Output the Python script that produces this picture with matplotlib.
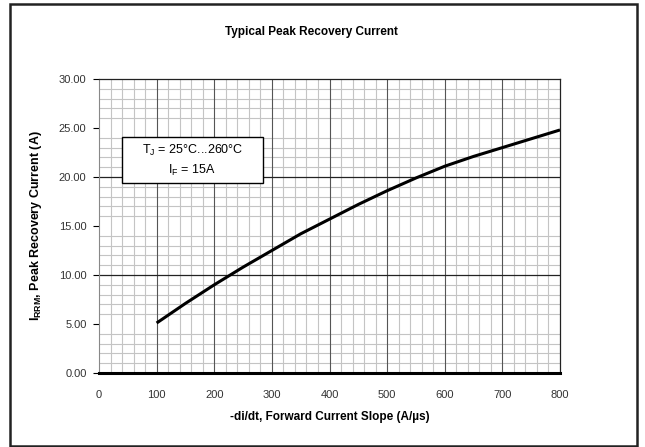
import numpy as np
import matplotlib
matplotlib.use('Agg')
import matplotlib.pyplot as plt
from matplotlib.patches import Rectangle
from matplotlib.ticker import MultipleLocator

# data
slope = [100, 150, 200, 250, 300, 350, 400, 450, 500, 550, 600, 650, 700, 750, 800]
irrm = [5.1, 7.1, 9.0, 10.8, 12.5, 14.2, 15.7, 17.2, 18.6, 19.9, 21.1, 22.1, 23.0, 23.9, 24.8]

x_ticks = [0, 100, 200, 300, 400, 500, 600, 700, 800]
y_ticks = [0, 5, 10, 15, 20, 25, 30]

plt.rcParams['font.family'] = ['Liberation Sans', 'DejaVu Sans']
plt.rcParams['mathtext.fontset'] = 'custom'
plt.rcParams['mathtext.rm'] = 'Liberation Sans'
plt.rcParams['mathtext.bf'] = 'Liberation Sans:bold'

fig = plt.figure(figsize=(6.45, 4.47), dpi=100)
ax = fig.add_axes([99 / 645, 1 - 373 / 447, 461 / 645, 294 / 447])

# grid
ax.set_xlim(0, 800)
ax.set_ylim(0, 30)
ax.xaxis.set_minor_locator(MultipleLocator(20))
ax.yaxis.set_minor_locator(MultipleLocator(1))
ax.set_xticks(x_ticks)
ax.set_yticks(y_ticks)
ax.set_xticklabels([str(v) for v in x_ticks])
ax.set_yticklabels(['%.2f' % v for v in y_ticks])
ax.grid(which='minor', color='#c4c4c4', linewidth=0.8)
for v in x_ticks[1:-1]:
    ax.axvline(v, color='#555555', linewidth=0.8, zorder=1.5)
for v in [10, 20]:
    ax.axhline(v, color='#222222', linewidth=0.9, zorder=1.5)
ax.set_axisbelow(True)

ax.tick_params(which='minor', length=0)
ax.tick_params(axis='y', which='major', length=4, width=0.8, pad=5, labelsize=8, labelcolor='#333333')
ax.tick_params(axis='x', which='major', length=0, pad=12, labelsize=8, labelcolor='#333333')

for s in ['top', 'right']:
    ax.spines[s].set_color('#222222')
    ax.spines[s].set_linewidth(0.9)
ax.spines['left'].set_color('#888888')
ax.spines['left'].set_linewidth(0.8)
ax.spines['bottom'].set_color('black')
ax.spines['bottom'].set_linewidth(2.2)

# curve
ax.plot(slope, irrm, color='black', linewidth=2.2, solid_capstyle='butt', zorder=3)

# labels
fig.text(311 / 645, 1 - 32 / 447, 'Typical Peak Recovery Current', ha='center', va='center',
         fontsize=8.5, fontweight='bold')
ax.set_xlabel('-di/dt, Forward Current Slope (A/\u00b5s)', fontsize=8.5, fontweight='bold', labelpad=8)
ax.set_ylabel(r'$\mathbf{I}_{\mathbf{RRM}}$, Peak Recovery Current (A)', fontsize=9,
              fontweight='bold', labelpad=11)

# condition box
box = Rectangle((40, 19.4), 245, 4.7, facecolor='white', edgecolor='black', linewidth=1.0, zorder=4)
ax.add_patch(box)
ax.text(162, 22.7, 'T$_\\mathrm{J}$ = 25\u00b0C...260\u00b0C',
        ha='center', va='center', fontsize=9, zorder=5)
ax.text(162, 20.7, r'I$_\mathrm{F}$ = 15A', ha='center', va='center', fontsize=9, zorder=5)

# outer frame
fig.patches.append(Rectangle((10 / 645, 0.002), 627 / 645, 1 - 4 / 447 - 0.002, transform=fig.transFigure,
                             fill=False, edgecolor='#222222', linewidth=1.8))

fig.savefig('out.png', dpi=100)
